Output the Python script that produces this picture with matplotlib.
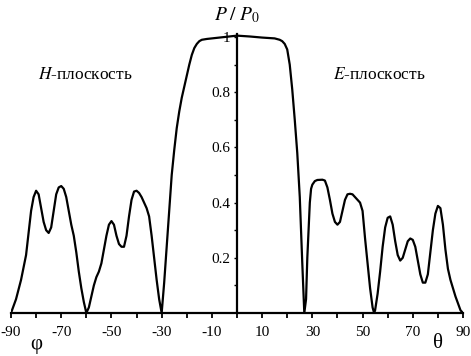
import matplotlib
matplotlib.use('Agg')
import matplotlib.pyplot as plt
import numpy as np

# radiation pattern: angle (deg), P/P0
angle = [-90, -88, -86, -85, -84, -83, -82, -81, -80, -79, -78, -77, -76, -75,
         -74, -73, -72, -71, -70, -69, -68, -67, -66, -65, -64, -63, -62, -61,
         -60, -59, -58, -57, -56, -55, -54, -53, -52, -51, -50, -49, -48, -47,
         -46, -45, -44, -43, -42, -41, -40, -39, -38, -37, -36, -35, -34, -33,
         -32, -31, -30, -29, -28, -27, -26, -25, -24, -23, -22, -21, -20, -19,
         -18, -17, -16, -15, -14, -12, -10, -5, 0, 5, 10, 15, 17, 18, 19, 20,
         21, 22, 23, 24, 25, 26, 26.8, 27.5, 28, 28.5, 29, 29.5, 30, 31, 32,
         34, 35, 36, 37, 38, 39, 40, 41, 42, 43, 44, 45, 46, 47, 48, 49, 50,
         51, 52, 53, 54, 54.6, 55, 56, 57, 58, 59, 60, 61, 62, 63, 64, 65, 66,
         67, 68, 69, 70, 71, 72, 73, 74, 75, 76, 77, 78, 79, 80, 81, 82, 83,
         84, 85, 86, 87, 88, 89, 90]
power = [0.0, 0.05, 0.12, 0.165, 0.21, 0.29, 0.37, 0.42, 0.443, 0.43, 0.38,
         0.33, 0.30, 0.29, 0.31, 0.37, 0.43, 0.455, 0.46, 0.45, 0.42, 0.37,
         0.32, 0.28, 0.22, 0.15, 0.09, 0.04, 0.0, 0.02, 0.06, 0.10, 0.13,
         0.15, 0.18, 0.23, 0.28, 0.32, 0.333, 0.32, 0.28, 0.25, 0.24, 0.24,
         0.28, 0.35, 0.41, 0.44, 0.443, 0.435, 0.42, 0.40, 0.38, 0.35, 0.28,
         0.20, 0.12, 0.05, 0.0, 0.11, 0.24, 0.37, 0.50, 0.59, 0.67, 0.73,
         0.78, 0.82, 0.86, 0.90, 0.935, 0.96, 0.975, 0.985, 0.99, 0.993,
         0.995, 1.0, 1.005, 1.002, 0.998, 0.995, 0.99, 0.985, 0.975, 0.955,
         0.90, 0.81, 0.70, 0.58, 0.42, 0.18, 0.0, 0.05, 0.20, 0.30, 0.40,
         0.45, 0.465, 0.478, 0.482, 0.483, 0.48, 0.455, 0.41, 0.36, 0.33,
         0.32, 0.33, 0.37, 0.41, 0.43, 0.432, 0.43, 0.42, 0.41, 0.40, 0.37,
         0.27, 0.18, 0.09, 0.02, 0.0, 0.01, 0.07, 0.15, 0.24, 0.31, 0.345,
         0.35, 0.32, 0.26, 0.21, 0.19, 0.20, 0.23, 0.26, 0.27, 0.265, 0.24,
         0.19, 0.14, 0.11, 0.11, 0.14, 0.22, 0.30, 0.36, 0.388, 0.38, 0.32,
         0.23, 0.16, 0.12, 0.09, 0.06, 0.035, 0.01, 0.0]

x_major = [-90, -70, -50, -30, -10, 10, 30, 50, 70, 90]
y_major = [0.2, 0.4, 0.6, 0.8, 1]

plt.rcParams['font.family'] = ['Liberation Serif', 'DejaVu Serif']
plt.rcParams['mathtext.fontset'] = 'stix'

fig = plt.figure(figsize=(4.71, 3.56), dpi=100)
ax = fig.add_axes([11 / 471, 43 / 356, 452 / 471, 281.5 / 356])

ax.plot(angle, power, color='black', lw=1.6, solid_joinstyle='round')

ax.set_xlim(-90, 90)
ax.set_ylim(0, 1.02)

for s in ['top', 'right']:
    ax.spines[s].set_visible(False)
ax.spines['left'].set_position(('data', 0))
ax.spines['left'].set_bounds(0, 1.01)
ax.spines['left'].set_linewidth(1.6)
ax.spines['bottom'].set_linewidth(1.6)

ax.set_xticks(x_major)
ax.set_xticks(np.arange(-80, 90, 20), minor=True)
ax.set_xticklabels([str(v) for v in x_major])
ax.set_yticks(y_major)
ax.set_yticks([0.1, 0.3, 0.5, 0.7, 0.9], minor=True)
ax.set_yticklabels(['0.2', '0.4', '0.6', '0.8', '1'])
ax.tick_params(axis='x', which='both', direction='out', length=3.5, width=1.3,
               pad=6, labelsize=11)
ax.tick_params(axis='y', which='both', direction='out', length=2.5, width=1.0,
               pad=2.5, labelsize=11)

ax.text(0, 1.045, r'$P\;/\;P_0$', ha='center', va='bottom', fontsize=14,
        transform=ax.transData, clip_on=False)
ax.text(-60.5, 0.862, r'$H$-плоскость', ha='center', va='center', fontsize=12.5)
ax.text(56.5, 0.862, r'$E$-плоскость', ha='center', va='center', fontsize=12.5)
fig.text(36 / 471, 1 - 345 / 356, 'φ', ha='center', va='center', fontsize=15)
fig.text(438 / 471, 1 - 343 / 356, 'θ', ha='center', va='center', fontsize=15)

fig.savefig('out.png', dpi=100)
